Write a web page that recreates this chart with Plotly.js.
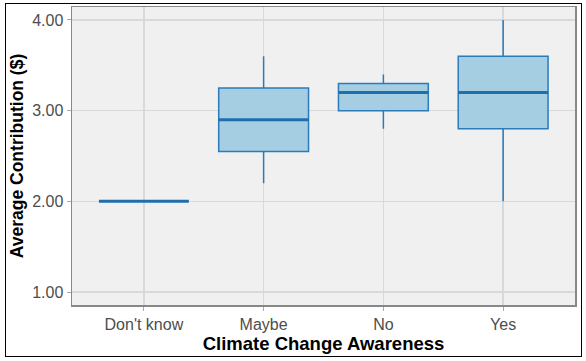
<!DOCTYPE html>
<html><head><meta charset="utf-8">
<script src="https://cdn.plot.ly/plotly-3.0.1.min.js"></script>
<style>
html,body{margin:0;padding:0;background:#fff;}
#wrap{position:relative;width:586px;height:361px;}
#chart{width:586px;height:361px;}
#frame{position:absolute;left:5px;top:3px;width:575px;height:352px;border:1px solid #000;pointer-events:none;}
</style>
</head><body>
<div id="wrap"><div id="chart"></div><div id="frame"></div></div>
<script>
const categories = ["Don't know", "Maybe", "No", "Yes"];
const lowerWhisker = [2.0, 2.2, 2.8, 2.0];
const q1Values = [2.0, 2.55, 3.0, 2.8];
const medianValues = [2.0, 2.9, 3.2, 3.2];
const q3Values = [2.0, 3.25, 3.3, 3.6];
const upperWhisker = [2.0, 3.6, 3.4, 4.0];
const yTicks = [1, 2, 3, 4];

const lineColor = '#2b7bba';
const fillColor = '#a6cee3';
const boxWidth = 0.75;

const trace = {
  type: 'box',
  x: categories,
  q1: q1Values,
  median: medianValues,
  q3: q3Values,
  lowerfence: lowerWhisker,
  upperfence: upperWhisker,
  width: boxWidth,
  fillcolor: fillColor,
  line: {color: lineColor, width: 1.5},
  whiskerwidth: 0,
  boxpoints: false,
  hoverinfo: 'skip',
  showlegend: false
};

const shapes = medianValues.map((m, i) => ({
  type: 'line', xref: 'x', yref: 'y',
  x0: i - boxWidth / 2, x1: i + boxWidth / 2, y0: m, y1: m,
  line: {color: '#1f6fad', width: 3}
}));

const titleFont = (s) => ({size: s, color: '#000', family: 'Liberation Sans, Arial, sans-serif', weight: 'bold'});

const layout = {
  width: 586, height: 361,
  margin: {l: 72, r: 11, t: 7, b: 56},
  paper_bgcolor: '#ffffff',
  plot_bgcolor: '#f0f0f0',
  font: {family: 'Liberation Sans, Arial, sans-serif', color: '#4d4d4d', size: 16},
  xaxis: {
    type: 'category',
    range: [-0.6, 3.6],
    showgrid: true, gridcolor: '#d9d9d9', gridwidth: 1.5,
    showline: true, linecolor: '#888888', linewidth: 1.5, mirror: true,
    ticks: 'outside', ticklen: 4, tickcolor: '#aaaaaa', tickwidth: 1,
    tickfont: {size: 16, color: '#4d4d4d'},
    zeroline: false,
    title: {text: 'Climate Change Awareness', font: titleFont(18.5), standoff: 2}
  },
  yaxis: {
    range: [0.857, 4.143],
    tickvals: yTicks,
    tickformat: '.2f',
    showgrid: true, gridcolor: '#d9d9d9', gridwidth: 1.5,
    showline: true, linecolor: '#888888', linewidth: 1.5, mirror: true,
    ticks: 'outside', ticklen: 4, tickcolor: '#aaaaaa', tickwidth: 1,
    tickfont: {size: 16, color: '#4d4d4d'},
    zeroline: false,
    title: {text: 'Average Contribution ($)', font: titleFont(17.5), standoff: 4}
  },
  shapes: shapes
};

Plotly.newPlot('chart', [trace], layout, {displayModeBar: false, staticPlot: true});
</script>
</body></html>
